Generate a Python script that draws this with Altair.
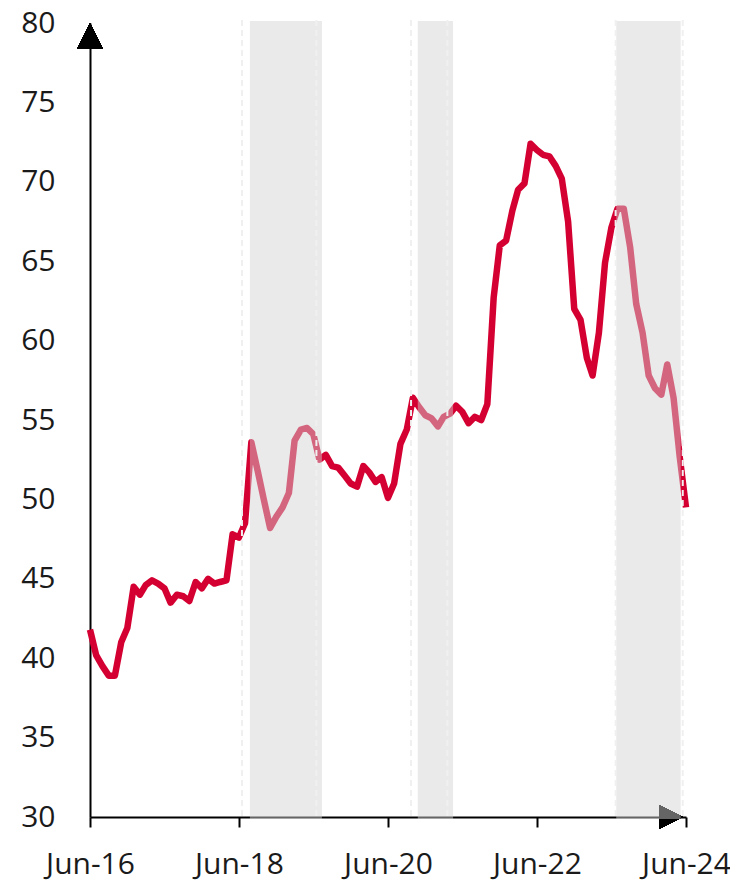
import altair as alt
import pandas as pd

# monthly observations, Jun-2016 .. Jun-2024
months = pd.date_range("2016-06-01", "2024-06-01", freq="MS").strftime("%Y-%m-%dT00:00:00").tolist()
values = [
    41.8, 40.2, 39.5, 38.9, 38.9, 41.0, 41.9, 44.5, 44.0, 44.6, 44.9, 44.7,
    44.4, 43.5, 44.0, 43.9, 43.6, 44.8, 44.4, 45.0, 44.7, 44.8, 44.9, 47.8,
    47.6, 48.5, 53.6, 51.8, 50.0, 48.2, 48.9, 49.5, 50.4, 53.7, 54.4, 54.5,
    54.1, 52.5, 52.8, 52.1, 52.0, 51.5, 51.0, 50.8, 52.1, 51.7, 51.1, 51.4,
    50.1, 51.0, 53.5, 54.4, 56.4, 55.8, 55.3, 55.1, 54.6, 55.2, 55.4, 55.9,
    55.5, 54.8, 55.2, 55.0, 56.0, 62.7, 66.0, 66.3, 68.2, 69.5, 69.9, 72.4,
    72.0, 71.7, 71.6, 71.0, 70.2, 67.5, 62.0, 61.3, 58.9, 57.8, 60.5, 64.9,
    67.1, 68.3, 68.3, 65.9, 62.3, 60.5, 57.8, 57.0, 56.6, 58.5, 56.4, 52.7,
    49.5,
]

shade_start = ["2018-07-25T00:00:00", "2020-10-25T00:00:00", "2023-06-25T00:00:00"]
shade_end = ["2019-07-13T00:00:00", "2021-04-16T00:00:00", "2024-05-06T00:00:00"]
marker_dates = ["2018-06-16T00:00:00", "2019-06-16T00:00:00", "2020-09-22T00:00:00",
                "2021-03-19T00:00:00", "2023-06-22T00:00:00", "2024-05-16T00:00:00"]

tick_years = [2016, 2018, 2020, 2022, 2024]
y_ticks = [30, 35, 40, 45, 50, 55, 60, 65, 70, 75, 80]

line_df = pd.DataFrame({"date": months, "value": values})
shade_df = pd.DataFrame({"start": shade_start, "end": shade_end})
marker_df = pd.DataFrame({"date": marker_dates})

RED = "#d50032"
FONT = "Open Sans"

x_scale = alt.Scale(domain=[alt.DateTime(year=2016, month=6, date=1),
                            alt.DateTime(year=2024, month=6, date=1)], nice=False)
y_scale = alt.Scale(domain=[30, 80], nice=False, zero=False)

x_axis = alt.Axis(values=[alt.DateTime(year=y, month=6, date=1) for y in tick_years],
                  format="%b-%y", title=None, grid=False,
                  labelFont=FONT, labelFontSize=30, labelColor="#1a1a1a",
                  tickSize=10, tickWidth=2, tickColor="black",
                  domainColor="black", domainWidth=2,
                  labelPadding=22, labelFlush=False, labelOverlap=False)
y_axis = alt.Axis(values=y_ticks, title=None, grid=False,
                  labelFont=FONT, labelFontSize=30, labelColor="#1a1a1a",
                  ticks=False, tickSize=0, domainColor="black", domainWidth=2,
                  labelPadding=35)

x_arrow = alt.Chart(line_df).mark_point(
    shape="M-1,-1L1,0L-1,1Z", filled=True, size=576, color="black", opacity=1, strokeWidth=0
).encode(x=alt.value(581), y=alt.value(794))

line = alt.Chart(line_df).mark_line(
    color=RED, strokeWidth=6.5, strokeJoin="round", strokeCap="butt"
).encode(
    x=alt.X("date:T", scale=x_scale, axis=x_axis),
    y=alt.Y("value:Q", scale=y_scale, axis=y_axis),
)

shade = alt.Chart(shade_df).mark_rect(color="#d4d4d4", opacity=0.48).encode(
    x=alt.X("start:T", scale=x_scale),
    x2="end:T",
    y=alt.value(-2),
    y2=alt.value(796),
)

y_arrow = alt.Chart(line_df).mark_point(
    shape="M0,-1L1,1L-1,1Z", filled=True, size=676, color="black", opacity=1, strokeWidth=0
).encode(x=alt.value(0), y=alt.value(13))

markers = alt.Chart(marker_df).mark_rule(
    color="#f0f0f0", strokeWidth=2, strokeDash=[6, 4]
).encode(
    x=alt.X("date:T", scale=x_scale),
    y=alt.value(-3),
    y2=alt.value(794),
)

chart = alt.layer(x_arrow, line, shade, y_arrow, markers).properties(
    width=596, height=794,
    autosize=alt.AutoSizeParams(type="none"),
    padding={"left": 82, "top": 15, "right": 44, "bottom": 67},
).configure_view(stroke=None)

chart.save("out.html", embed_options={"renderer": "svg", "actions": False})
